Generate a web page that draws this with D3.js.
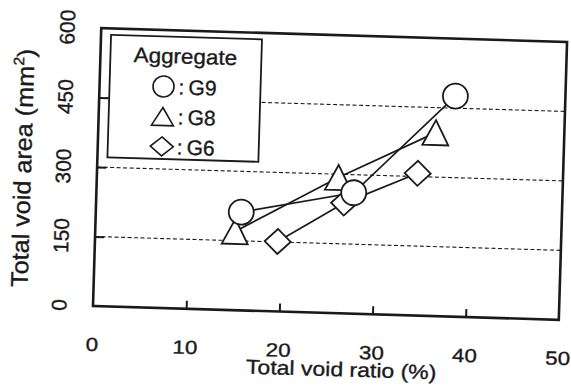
<!DOCTYPE html>
<html><head><meta charset="utf-8">
<script src="https://cdn.jsdelivr.net/npm/d3@7"></script>
<style>html,body{margin:0;padding:0;background:#fff;} svg{display:block;} text{stroke:#1a1a1a;stroke-width:0.35px;}</style>
</head><body>
<svg id="chart" width="571" height="387"></svg>
<script>
// ---- data ----
const xTicks = [0, 10, 20, 30, 40, 50];
const yTicks = [0, 150, 300, 450, 600];
const gridValues = [150, 300, 450];
const seriesNames = ["G9", "G8", "G6"];
const g9X = [15.6, 27.6, 38.2];
const g9Y = [212, 261, 476];
const g8X = [15.0, 25.9, 36.2];
const g8Y = [170, 293, 396];
const g6X = [19.6, 26.6, 34.4];
const g6Y = [151, 238, 307];
const xTitle = "Total void ratio (%)";
const yTitleMain = "Total void area (mm";
const yTitleSup = "2";
const legendTitle = "Aggregate";

// ---- layout ----
const left = 93, bottom = 306, plotW = 466, plotH = 278;
const ink = "#1a1a1a";
const font = "'Liberation Sans', Arial, sans-serif";

const svg = d3.select("#chart");
svg.append("rect").attr("width", 571).attr("height", 387).attr("fill", "#fff");

const x = d3.scaleLinear().domain([0, 50]).range([left, left + plotW]);
const y = d3.scaleLinear().domain([0, 600]).range([bottom, bottom - plotH]);

const root = svg.append("g").attr("transform", `rotate(1.7,${left},${bottom})`);

// gridlines
root.append("g").selectAll("line").data(gridValues).join("line")
  .attr("x1", x(0)).attr("x2", x(50))
  .attr("y1", d => y(d)).attr("y2", d => y(d))
  .attr("stroke", ink).attr("stroke-width", 1.1).attr("stroke-dasharray", "4,2.5");

// axes ticks (inward)
const yAxis = d3.axisLeft(y).tickValues(gridValues).tickSize(-9).tickFormat("");
const yg = root.append("g").attr("transform", `translate(${left},0)`).call(yAxis);
yg.select(".domain").remove();
yg.selectAll("line").attr("stroke", ink).attr("stroke-width", 2);

const xAxis = d3.axisBottom(x).tickValues([10, 20, 30, 40]).tickSize(-8).tickFormat("");
const xg = root.append("g").attr("transform", `translate(0,${bottom})`).call(xAxis);
xg.select(".domain").remove();
xg.selectAll("line").attr("stroke", ink).attr("stroke-width", 2);

// frame
root.append("rect")
  .attr("x", x(0)).attr("y", y(600))
  .attr("width", x(50) - x(0)).attr("height", y(0) - y(600))
  .attr("fill", "none").attr("stroke", ink).attr("stroke-width", 2.6);

// tick labels
root.append("g").selectAll("text").data(xTicks).join("text")
  .attr("transform", d => `translate(${x(d)},351) scale(1.18,1)`)
  .attr("text-anchor", "middle").attr("font-family", font).attr("font-size", 19)
  .attr("fill", ink).text(d => d);

root.append("g").selectAll("text").data(yTicks).join("text")
  .attr("transform", d => `translate(66.5,${y(d)}) rotate(-90)`)
  .attr("text-anchor", "middle").attr("font-family", font).attr("font-size", 21)
  .attr("fill", ink).text(d => d);

// axis titles
root.append("text")
  .attr("transform", `translate(343,369) scale(1.15,1)`)
  .attr("text-anchor", "middle").attr("font-family", font).attr("font-size", 20)
  .attr("fill", ink).text(xTitle);

const yt = root.append("text")
  .attr("transform", `translate(27,170) rotate(-90) scale(1.05,1)`)
  .attr("text-anchor", "middle").attr("font-family", font).attr("font-size", 24)
  .attr("fill", ink);
yt.append("tspan").text(yTitleMain);
yt.append("tspan").attr("font-size", 15).attr("dy", -10).text(yTitleSup);
yt.append("tspan").attr("dy", 10).text(")");

// marker shapes
function circlePath(r) { const p = d3.path(); p.arc(0, 0, r, 0, 2 * Math.PI); p.closePath(); return p.toString(); }
function triPath(w, h) { return `M0,${-h/2}L${w/2},${h/2}L${-w/2},${h/2}Z`; }
function diaPath(w, h) { return `M0,${-h/2}L${w/2},0L0,${h/2}L${-w/2},0Z`; }

const series = [
  { name: seriesNames[2], xs: g6X, ys: g6Y, shape: diaPath(26, 25), legShape: diaPath(23, 19) },
  { name: seriesNames[1], xs: g8X, ys: g8Y, shape: triPath(26, 25), legShape: triPath(22, 18) },
  { name: seriesNames[0], xs: g9X, ys: g9Y, shape: circlePath(12.5), legShape: circlePath(10.5) }
];

// legend
const leg = root.append("g");
leg.append("rect").attr("x", 103).attr("y", 34.5).attr("width", 151).attr("height", 122.5)
  .attr("fill", "#fff").attr("stroke", ink).attr("stroke-width", 1.8);
leg.append("text").attr("transform", "translate(178,61) scale(1.07,1)")
  .attr("text-anchor", "middle").attr("font-family", font).attr("font-size", 21)
  .attr("fill", ink).text(legendTitle);
const legOrder = [series[2], series[1], series[0]];
legOrder.forEach((s, i) => {
  const base = 92 + i * 30;
  leg.append("path").attr("d", s.legShape).attr("transform", `translate(157,${base - 7.5})`)
    .attr("fill", "#fff").attr("stroke", ink).attr("stroke-width", 1.6);
  const t = leg.append("text").attr("font-family", font).attr("font-size", 21).attr("fill", ink)
    .attr("y", base);
  t.append("tspan").attr("x", 172).text(":");
  t.append("tspan").attr("x", 182).text(s.name);
});

// lines
const line = d3.line().x(d => x(d[0])).y(d => y(d[1]));
series.forEach(s => {
  const pts = s.xs.map((v, i) => [v, s.ys[i]]);
  root.append("path").datum(pts).attr("d", line)
    .attr("fill", "none").attr("stroke", ink).attr("stroke-width", 1.7);
});
// markers
series.forEach(s => {
  const pts = s.xs.map((v, i) => [v, s.ys[i]]);
  root.append("g").selectAll("path").data(pts).join("path")
    .attr("d", s.shape)
    .attr("transform", d => `translate(${x(d[0])},${y(d[1])})`)
    .attr("fill", "#fff").attr("stroke", ink).attr("stroke-width", 1.8);
});
</script>
</body></html>
